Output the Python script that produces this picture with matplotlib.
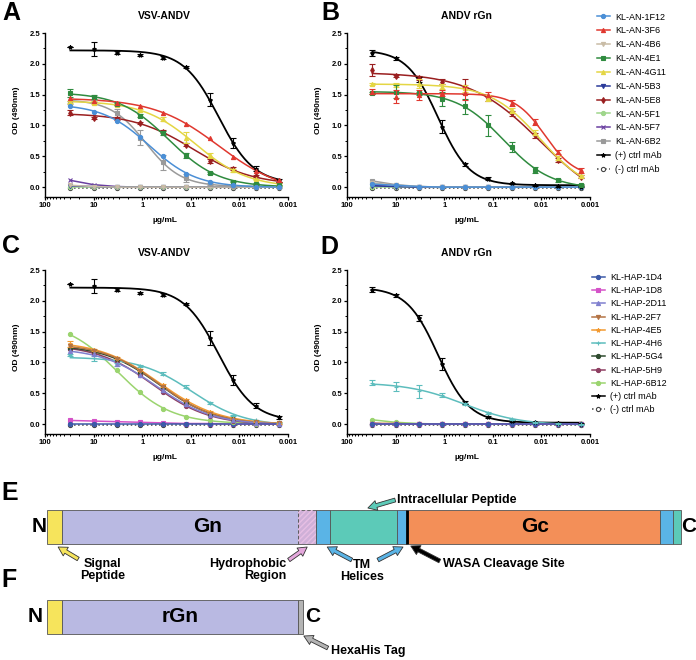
import numpy as np
import matplotlib
matplotlib.use('Agg')
import matplotlib.pyplot as plt
from matplotlib.lines import Line2D
from matplotlib.ticker import FixedLocator, LogLocator, MultipleLocator, NullFormatter

plt.rcParams['font.family'] = ['Liberation Sans', 'DejaVu Sans']

# ---------------- data ----------------
conc = [30, 10, 3.33, 1.11, 0.370, 0.123, 0.0412, 0.0137, 0.00457, 0.00152]

an_labels = ['KL-AN-1F12', 'KL-AN-3F6', 'KL-AN-4B6', 'KL-AN-4E1', 'KL-AN-4G11', 'KL-AN-5B3',
             'KL-AN-5E8', 'KL-AN-5F1', 'KL-AN-5F7', 'KL-AN-6B2', '(+) ctrl mAb', '(-) ctrl mAb']
hap_labels = ['KL-HAP-1D4', 'KL-HAP-1D8', 'KL-HAP-2D11', 'KL-HAP-2F7', 'KL-HAP-4E5', 'KL-HAP-4H6',
              'KL-HAP-5G4', 'KL-HAP-5H9', 'KL-HAP-6B12', '(+) ctrl mAb', '(-) ctrl mAb']

# panel A: KL-AN mAbs vs VSV-ANDV
a_values = [
    [1.32, 1.22, 1.07, 0.81, 0.50, 0.22, 0.08, 0.03, 0.01, 0.01],
    [1.45, 1.40, 1.37, 1.31, 1.21, 1.03, 0.80, 0.49, 0.26, 0.11],
    [0.03, 0.01, 0.00, 0.00, 0.00, 0.00, 0.00, 0.00, 0.00, 0.00],
    [1.53, 1.46, 1.35, 1.16, 0.88, 0.52, 0.23, 0.09, 0.05, 0.03],
    [1.38, 1.37, 1.33, 1.25, 1.10, 0.80, 0.52, 0.27, 0.13, 0.05],
    [0.02, 0.01, 0.00, 0.00, 0.00, 0.00, 0.00, 0.00, 0.00, 0.00],
    [1.21, 1.12, 1.11, 1.04, 0.90, 0.69, 0.42, 0.30, 0.18, 0.08],
    [0.00, 0.00, 0.00, 0.00, 0.00, 0.00, 0.00, 0.00, 0.00, 0.00],
    [0.11, 0.04, 0.01, 0.00, 0.00, 0.00, 0.00, 0.00, 0.00, 0.00],
    [1.37, 1.40, 1.20, 0.80, 0.40, 0.15, 0.05, 0.02, 0.01, 0.00],
    [2.28, 2.24, 2.18, 2.14, 2.10, 1.95, 1.42, 0.72, 0.30, 0.11],
    [-0.01, -0.01, -0.01, -0.01, -0.01, -0.01, -0.01, -0.01, -0.01, -0.01],
]
a_errors = [None, None, None,
            [0.06, 0.03, 0.02, 0.02, 0.03, 0.04, 0.02, 0.01, 0.01, 0.01],
            [0.02, 0.02, 0.02, 0.02, 0.03, 0.09, 0.04, 0.02, 0.01, 0.01],
            None, [0.04, 0.02, 0.02, 0.02, 0.02, 0.02, 0.03, 0.02, 0.01, 0.01],
            None, None,
            [0.02, 0.02, 0.06, 0.12, 0.12, 0.06, 0.02, 0.01, 0.01, 0.01],
            [0.00, 0.11, 0.02, 0.02, 0.02, 0.02, 0.11, 0.08, 0.04, 0.02],
            None]

# panel B: KL-AN mAbs vs ANDV rGn
b_values = [
    [0.05, 0.03, 0.01, 0.00, 0.00, 0.00, 0.00, 0.00, 0.00, 0.00],
    [1.55, 1.47, 1.50, 1.53, 1.52, 1.50, 1.37, 1.06, 0.57, 0.27],
    [0.07, 0.03, 0.01, 0.00, 0.00, 0.00, 0.00, 0.00, 0.00, 0.00],
    [1.53, 1.55, 1.52, 1.43, 1.31, 1.00, 0.65, 0.28, 0.11, 0.04],
    [1.67, 1.66, 1.68, 1.63, 1.60, 1.45, 1.25, 0.88, 0.47, 0.18],
    [0.02, 0.01, 0.00, 0.00, 0.00, 0.00, 0.00, 0.00, 0.00, 0.00],
    [1.90, 1.80, 1.77, 1.71, 1.63, 1.44, 1.20, 0.84, 0.44, 0.17],
    [0.00, 0.00, 0.00, 0.00, 0.00, 0.00, 0.00, 0.00, 0.00, 0.00],
    [0.03, 0.01, 0.00, 0.00, 0.00, 0.00, 0.00, 0.00, 0.00, 0.00],
    [0.10, 0.04, 0.01, 0.00, 0.00, 0.00, 0.00, 0.00, 0.00, 0.00],
    [2.18, 2.09, 1.75, 0.98, 0.37, 0.14, 0.06, 0.03, 0.02, 0.01],
    [-0.01, -0.01, -0.01, -0.01, -0.01, -0.01, -0.01, -0.01, -0.01, -0.01],
]
b_errors = [None,
            [0.04, 0.10, 0.08, 0.05, 0.10, 0.04, 0.05, 0.05, 0.04, 0.04],
            None,
            [0.02, 0.10, 0.03, 0.12, 0.12, 0.17, 0.08, 0.05, 0.02, 0.01],
            [0.02, 0.03, 0.08, 0.04, 0.05, 0.05, 0.04, 0.04, 0.03, 0.02],
            None,
            [0.09, 0.02, 0.03, 0.04, 0.12, 0.05, 0.04, 0.04, 0.03, 0.02],
            None, None, None,
            [0.05, 0.02, 0.04, 0.11, 0.02, 0.02, 0.01, 0.01, 0.01, 0.01],
            None]

# panel C: KL-HAP mAbs vs VSV-ANDV
c_values = [
    [0.00, 0.00, 0.00, 0.00, 0.00, 0.00, 0.00, 0.00, 0.00, 0.00],
    [0.06, 0.05, 0.04, 0.03, 0.02, 0.01, 0.01, 0.00, 0.00, 0.00],
    [1.18, 1.13, 0.98, 0.79, 0.55, 0.32, 0.15, 0.06, 0.02, 0.01],
    [1.27, 1.19, 1.06, 0.86, 0.61, 0.36, 0.17, 0.07, 0.03, 0.02],
    [1.30, 1.20, 1.07, 0.88, 0.63, 0.39, 0.20, 0.09, 0.04, 0.02],
    [1.12, 1.07, 0.97, 0.94, 0.82, 0.61, 0.34, 0.14, 0.06, 0.03],
    [1.24, 1.18, 1.05, 0.85, 0.60, 0.36, 0.17, 0.08, 0.03, 0.02],
    [1.22, 1.16, 1.00, 0.79, 0.52, 0.30, 0.13, 0.05, 0.02, 0.01],
    [1.46, 1.18, 0.88, 0.52, 0.25, 0.12, 0.06, 0.03, 0.01, 0.01],
    [2.28, 2.24, 2.18, 2.13, 2.10, 1.95, 1.40, 0.71, 0.30, 0.11],
    [-0.01, -0.01, -0.01, -0.01, -0.01, -0.01, -0.01, -0.01, -0.01, -0.01],
]
c_errors = [None, None, None, None,
            [0.05, 0.02, 0.02, 0.02, 0.02, 0.02, 0.02, 0.01, 0.01, 0.01],
            [0.02, 0.04, 0.02, 0.02, 0.02, 0.02, 0.02, 0.01, 0.01, 0.01],
            None, None, None,
            [0.00, 0.11, 0.02, 0.02, 0.02, 0.02, 0.11, 0.08, 0.04, 0.02],
            None]

# panel D: KL-HAP mAbs vs ANDV rGn
d_values = [
    [0.00, 0.00, 0.00, 0.00, 0.00, 0.00, 0.00, 0.00, 0.00, 0.00],
    [0.01, 0.00, 0.00, 0.00, 0.00, 0.00, 0.00, 0.00, 0.00, 0.00],
    [0.01, 0.00, 0.00, 0.00, 0.00, 0.00, 0.00, 0.00, 0.00, 0.00],
    [0.01, 0.01, 0.00, 0.00, 0.00, 0.00, 0.00, 0.00, 0.00, 0.00],
    [0.01, 0.01, 0.00, 0.00, 0.00, 0.00, 0.00, 0.00, 0.00, 0.00],
    [0.67, 0.61, 0.53, 0.47, 0.33, 0.18, 0.08, 0.03, 0.01, 0.00],
    [0.01, 0.00, 0.00, 0.00, 0.00, 0.00, 0.00, 0.00, 0.00, 0.00],
    [0.01, 0.00, 0.00, 0.00, 0.00, 0.00, 0.00, 0.00, 0.00, 0.00],
    [0.07, 0.03, 0.01, 0.00, 0.00, 0.00, 0.00, 0.00, 0.00, 0.00],
    [2.18, 2.09, 1.72, 0.98, 0.35, 0.12, 0.05, 0.03, 0.02, 0.01],
    [-0.01, -0.01, -0.01, -0.01, -0.01, -0.01, -0.01, -0.01, -0.01, -0.01],
]
d_errors = [None, None, None, None, None,
            [0.04, 0.08, 0.10, 0.03, 0.02, 0.02, 0.01, 0.01, 0.01, 0.01],
            None, None, None,
            [0.04, 0.02, 0.05, 0.10, 0.02, 0.02, 0.01, 0.01, 0.01, 0.01],
            None]

# glycoprotein domain map (amino-acid positions)
gpc_starts = [0, 27, 450, 483, 508, 628, 648, 1100, 1124]
gpc_ends = [27, 450, 483, 508, 628, 646, 1100, 1124, 1138]
gpc_colors = ['#f6e45c', '#b9b9e2', '#cfb0d8', '#5ab4e6', '#5ccab8', '#5ab4e6', '#f38f58', '#5ab4e6', '#5ccab8']
wasa_site = 647
rgn_starts = [0, 27, 450]
rgn_ends = [27, 450, 459]
rgn_colors = ['#f6e45c', '#b9b9e2', '#b4b4b4']

# ---------------- styles ----------------
an_colors = ['#4b8fd6', '#e0382f', '#c9bca6', '#2f8b3f', '#e4d644', '#2b3b9a',
             '#9a1f20', '#9fd68c', '#6a3fa0', '#9a9a9a', 'black', '#444444']
an_markers = ['o', '^', 'v', 's', '^', 'v', 'd', 'o', 'x', 's', '*', 'o']
hap_colors = ['#3d5aa8', '#d452c8', '#8080cf', '#b47445', '#f39a30', '#5dbdbd',
              '#2f4b2f', '#8e3f62', '#9bd46f', 'black', '#444444']
hap_markers = ['o', 's', '^', 'v', '*', '+', 'o', 'o', 'o', '*', 'o']


def fit_4pl(x, y):
    lx = np.log10(x)
    lc = np.linspace(-3.5, 2.0, 221)[:, None, None]
    h = np.linspace(0.3, 3.0, 55)[None, :, None]
    f = 1.0 / (1.0 + 10 ** (h * (lc - lx[None, None, :])))
    u = 1 - f
    suu, svv, suv = (u * u).sum(-1), (f * f).sum(-1), (u * f).sum(-1)
    suy, svy = (u * y).sum(-1), (f * y).sum(-1)
    det = suu * svv - suv ** 2
    bot = (svv * suy - suv * svy) / det
    top = (suu * svy - suv * suy) / det
    sse = ((bot[..., None] * u + top[..., None] * f - y) ** 2).sum(-1)
    i, j = np.unravel_index(np.argmin(sse), sse.shape)
    return bot[i, j], top[i, j], lc[i, 0, 0], h[0, j, 0]


def draw_panel(ax, values, errors, colors, markers, labels, title):
    x = np.array(conc)
    xs = np.logspace(np.log10(x.max()), np.log10(x.min()), 200)
    for i in reversed(range(len(values))):
        y = np.array(values[i])
        neg = labels[i].startswith('(-)')
        mfc = 'white' if neg else colors[i]
        lw = 1.3 if colors[i] == 'black' else 1.1
        if y.max() > 0.25:
            bot, top, lc, h = fit_4pl(x, y)
            ax.plot(xs, bot + (top - bot) / (1 + 10 ** (h * (lc - np.log10(xs)))),
                    color=colors[i], lw=lw, zorder=3)
            ax.plot(x, y, ls='none', marker=markers[i], color=colors[i], mfc=mfc,
                    ms=3, mew=0.8, zorder=4)
        else:
            ax.plot(x, y, ls=':' if neg else '-', marker=markers[i], color=colors[i],
                    mfc=mfc, ms=3, mew=0.8, lw=lw, zorder=3)
        if errors[i] is not None:
            ax.errorbar(x, y, yerr=errors[i], fmt='none', ecolor=colors[i],
                        elinewidth=0.8, capsize=2, capthick=0.8, zorder=4)

    ax.set_xscale('log')
    ax.set_xlim(100, 0.001)
    ax.set_ylim(-0.16, 2.5)
    ax.set_yticks([0, 0.5, 1.0, 1.5, 2.0, 2.5])
    ax.set_yticklabels(['0.0', '0.5', '1.0', '1.5', '2.0', '2.5'], fontweight='bold', fontsize=5.5)
    ax.yaxis.set_minor_locator(MultipleLocator(0.25))
    ax.xaxis.set_major_locator(FixedLocator([100, 10, 1, 0.1, 0.01, 0.001]))
    ax.set_xticklabels(['100', '10', '1', '0.1', '0.01', '0.001'], fontweight='bold', fontsize=5.5)
    ax.xaxis.set_minor_locator(LogLocator(base=10, subs=np.arange(2, 10) * 1.0, numticks=20))
    ax.xaxis.set_minor_formatter(NullFormatter())
    for s in ['top', 'right']:
        ax.spines[s].set_visible(False)
    for s in ['left', 'bottom']:
        ax.spines[s].set_linewidth(1.0)
    ax.tick_params(which='major', direction='out', length=2.5, width=0.9, pad=1)
    ax.tick_params(which='minor', direction='out', length=1.5, width=0.7)
    ax.set_ylabel('OD (490nm)', fontweight='bold', fontsize=6)
    ax.yaxis.set_label_coords(-0.103, 0.53)
    ax.set_xlabel('µg/mL', fontweight='bold', fontsize=6)
    ax.xaxis.set_label_coords(0.494, -0.122)
    ax.text(0.49, 1.104, title, transform=ax.transAxes, ha='center', va='center',
            fontweight='bold', fontsize=7.5)


def legend_handles(colors, markers, labels):
    hs = []
    for c, m, lab in zip(colors, markers, labels):
        neg = lab.startswith('(-)')
        hs.append(Line2D([], [], color=c, marker=m, ls=':' if neg else '-', lw=1.1,
                         ms=3, mew=0.8, mfc='white' if neg else c))
    return hs


W, H = 696, 660
fig = plt.figure(figsize=(W / 100, H / 100), dpi=100)


def px_axes(x0, y0, x1, y1):
    return fig.add_axes([x0 / W, 1 - y1 / H, (x1 - x0) / W, (y1 - y0) / H])


ax_a = px_axes(45, 33, 288, 197)
ax_b = px_axes(347, 33, 590, 197)
ax_c = px_axes(45, 270, 288, 434)
ax_d = px_axes(347, 270, 590, 434)

draw_panel(ax_a, a_values, a_errors, an_colors, an_markers, an_labels, 'VSV-ANDV')
draw_panel(ax_b, b_values, b_errors, an_colors, an_markers, an_labels, 'ANDV rGn')
draw_panel(ax_c, c_values, c_errors, hap_colors, hap_markers, hap_labels, 'VSV-ANDV')
draw_panel(ax_d, d_values, d_errors, hap_colors, hap_markers, hap_labels, 'ANDV rGn')

fig.legend(legend_handles(an_colors, an_markers, an_labels), an_labels, loc='upper left',
           bbox_to_anchor=(597 / W, 1 - 12.5 / H), frameon=False, fontsize=6.5,
           handlelength=1.4, handletextpad=0.6, labelspacing=0.54, borderpad=0, borderaxespad=0)
fig.legend(legend_handles(hap_colors, hap_markers, hap_labels), hap_labels, loc='upper left',
           bbox_to_anchor=(592 / W, 1 - 273 / H), frameon=False, fontsize=6.5,
           handlelength=1.4, handletextpad=0.6, labelspacing=0.47, borderpad=0, borderaxespad=0)

for letter, (lx, ly) in zip('ABCDEF', [(11, 13), (330, 13), (11, 246), (329, 247), (10, 493), (9, 580)]):
    fig.text(lx / W, 1 - ly / H, letter, ha='center', va='center', fontsize=18, fontweight='bold')

# ---------------- panels E / F: domain maps ----------------
scale = 634 / 1138  # px per residue
ax_e = fig.add_axes([0, 0, 1, 200 / H])
ax_e.set_xlim(-47 / scale, (W - 47) / scale)
ax_e.set_ylim(660, 460)
ax_e.axis('off')

e_row, f_row, bar_h = 527, 617, 34
ax_e.barh(e_row, np.subtract(gpc_ends, gpc_starts), left=gpc_starts, height=bar_h,
          color=gpc_colors, edgecolor='#555555', linewidth=0.6)
ax_e.barh(e_row, gpc_ends[2] - gpc_starts[2], left=gpc_starts[2], height=bar_h,
          facecolor='none', edgecolor='#e7bfe4', hatch='//////', linewidth=0)
ax_e.vlines(wasa_site, e_row - bar_h / 2, e_row + bar_h / 2, color='black', lw=2)
ax_e.barh(f_row, np.subtract(rgn_ends, rgn_starts), left=rgn_starts, height=bar_h,
          color=rgn_colors, edgecolor='#555555', linewidth=0.6)

big = dict(fontsize=15, fontweight='bold', ha='center', va='center')
ax_e.text(-14, e_row, 'N', **big)
ax_e.text(1152, e_row, 'C', **big)
ax_e.text(288, e_row, 'Gn', **big)
ax_e.text(876, e_row, 'Gc', **big)
ax_e.text(-21, f_row, 'N', **big)
ax_e.text(477, f_row, 'C', **big)
ax_e.text(239, f_row, 'rGn', **big)

lab = dict(fontsize=9, fontweight='bold', va='center', linespacing=1.0)


def arrow(tail, tip, color):
    ax_e.annotate('', xy=tip, xytext=tail,
                  arrowprops=dict(arrowstyle='simple,head_length=0.8,head_width=0.9,tail_width=0.35',
                                  fc=color, ec='#333333', lw=0.6, shrinkA=0, shrinkB=0,
                                  mutation_scale=8))


ax_e.text(628, 500, 'Intracellular Peptide', ha='left', **lab)
arrow((625, 500), (576, 508), '#5ccab8')
ax_e.text(99, 570.5, 'Signal\nPeptide', ha='center', multialignment='center', **lab)
arrow((56, 559), (20, 547), '#f6e45c')
ax_e.text(429, 570.5, 'Hydrophobic\nRegion', ha='right', multialignment='right', **lab)
arrow((434, 560), (467, 547), '#e4a8dc')
ax_e.text(565, 570.5, 'TM\nHelices', ha='center', multialignment='center', **lab)
arrow((547, 560), (503, 547), '#5ab4e6')
arrow((594, 560), (639, 547), '#5ab4e6')
ax_e.text(711, 564, 'WASA Cleavage Site', ha='left', **lab)
arrow((705, 561), (653, 546), 'black')
ax_e.text(510, 651, 'HexaHis Tag', ha='left', **lab)
arrow((504, 648), (461, 636), '#b4b4b4')

fig.savefig('out.png', dpi=100)
